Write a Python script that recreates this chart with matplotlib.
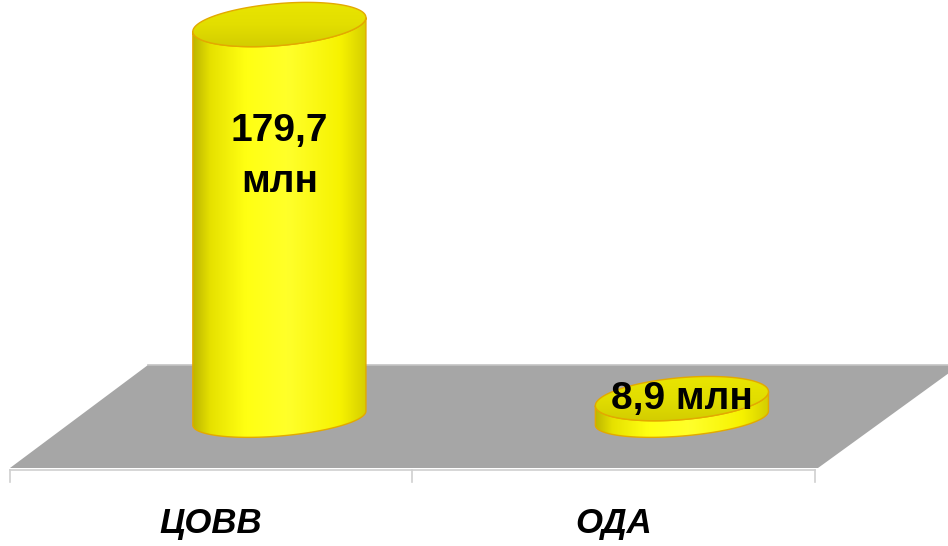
import numpy as np
import matplotlib.pyplot as plt
import matplotlib.transforms as mtransforms
from matplotlib.patches import Polygon
from matplotlib.colors import LinearSegmentedColormap

# data
categories = ['ЦОВВ', 'ОДА']
values = [179.7, 8.9]
value_labels = ['179,7\nмлн', '8,9 млн']

plt.rcParams['font.family'] = ['Liberation Sans', 'DejaVu Sans']

W, H = 948, 546
fig = plt.figure(figsize=(W / 100, H / 100), dpi=100)
ax = fig.add_axes([0, 0, 1, 1])
ax.axis('off')


def px(x, y):
    # pixel position -> axes fraction (axes fills the figure)
    return (x / W, 1 - y / H)


# gray floor of the 3D chart
floor = Polygon([px(148, 365), px(960, 365), px(818, 468), px(10, 468)],
                closed=True, transform=ax.transAxes, fc='#a6a6a6', ec='none', zorder=0)
ax.add_patch(floor)
ax.plot([148 / W, 1], [1 - 365 / H] * 2, transform=ax.transAxes, color='#c4c4c4', lw=1.2, zorder=0.5)

# category axis below the floor
blend = mtransforms.blended_transform_factory(ax.transData, ax.transAxes)
shift = -0.17  # category slots are drawn to the left of the cylinders (perspective)
edges = [i + shift - 0.5 for i in range(len(categories))] + [len(categories) - 1 + shift + 0.5]
ax.plot([edges[0], edges[-1]], [1 - 470 / H] * 2, transform=blend, color='#d0d0d0', lw=1.2)
for e in edges:
    ax.plot([e, e], [1 - 470 / H, 1 - 482 / H], transform=blend, color='#d0d0d0', lw=1.2)
for i, c in enumerate(categories):
    ax.text(i + shift, 1 - 524 / H, c, transform=blend, ha='center', va='center',
            fontsize=25, fontweight='bold', fontstyle='italic', color='black')

# cylinders
rx = 0.215       # half width in category units
b_top, b_bot = 9.6, 8.2   # ellipse half heights (value units)
tilt = 3.2
body_cmap = LinearSegmentedColormap.from_list(
    'body', [(0, '#bdb600'), (0.1, '#e6e100'), (0.3, '#ffff12'), (0.55, '#ffff2a'),
             (0.85, '#f6f200'), (1, '#d4cd00')])
top_cmap = LinearSegmentedColormap.from_list('top', ['#cfc900', '#e2de00', '#ebe700'])
edge_col = '#e3a900'


def ring(cx, cy, b, t):
    return np.column_stack([cx + rx * np.cos(t), cy + b * np.sin(t) + tilt * np.cos(t)])


front = np.linspace(np.pi, 2 * np.pi, 120)
full = np.linspace(0, 2 * np.pi, 240)

for i, v in enumerate(values):
    bottom = ring(i, 0, b_bot, front)
    top_front = ring(i, v, b_top, front)[::-1]
    body = Polygon(np.vstack([bottom, top_front]), closed=True, fc='none',
                   ec=edge_col, lw=1.0, zorder=3)
    ax.add_patch(body)
    im = ax.imshow(np.linspace(0, 1, 256)[None, :], cmap=body_cmap, aspect='auto',
                   extent=[i - rx, i + rx, -b_bot - tilt - 2, v + b_top + tilt + 2],
                   interpolation='bicubic', zorder=2)
    im.set_clip_path(body)

    top = Polygon(ring(i, v, b_top, full), closed=True, fc='none', ec=edge_col, lw=1.0, zorder=5)
    ax.add_patch(top)
    tim = ax.imshow(np.linspace(1, 0, 64)[:, None], cmap=top_cmap, aspect='auto',
                    extent=[i - rx, i + rx, v - b_top - tilt, v + b_top + tilt],
                    interpolation='bicubic', zorder=4)
    tim.set_clip_path(top)

    ly = v * 0.665 if v > 50 else v
    ax.text(i, ly, value_labels[i], ha='center', va='center', fontsize=28,
            fontweight='bold', linespacing=1.55, color='black', zorder=6)

ax.set_xlim(-0.694, 1.661)
ax.set_ylim(-58.4, 190.9)

fig.savefig('out.png', dpi=100)
